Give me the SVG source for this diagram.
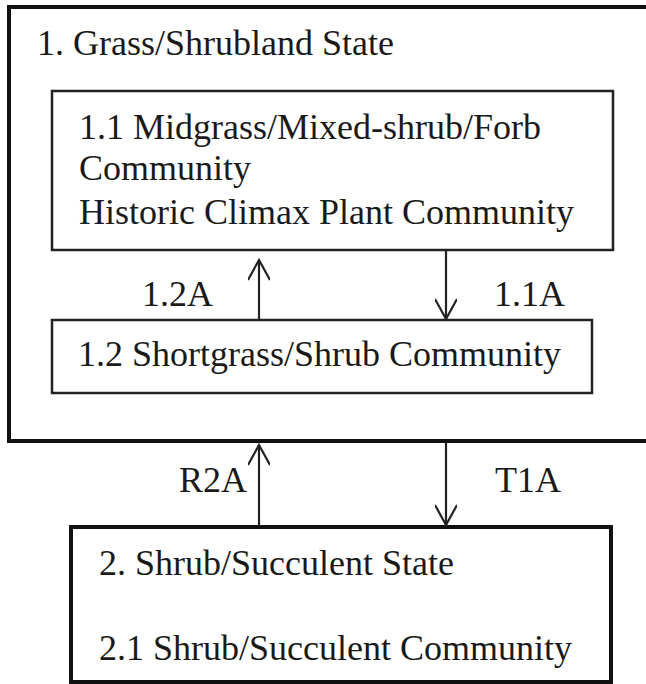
<svg xmlns="http://www.w3.org/2000/svg" width="646" height="684" viewBox="0 0 646 684">
<defs>
<style>
.t{font-family:"Liberation Serif","Times New Roman",serif;font-size:36px;fill:#1a1a1a}
.thick{fill:none;stroke:#111;stroke-width:4}
.thin{fill:none;stroke:#222;stroke-width:2.5}
.c{fill:none;stroke:#222;stroke-width:2.2}
</style>
<marker id="ah" viewBox="0 0 24 22" refX="22" refY="11" markerWidth="24" markerHeight="22" markerUnits="userSpaceOnUse" orient="auto">
<path d="M2,0 L22,11 L2,22" fill="none" stroke="#222" stroke-width="2.2"/>
</marker>
</defs>
<rect width="646" height="684" fill="#fff"/>
<g id="state1">
<rect class="thick" x="9" y="7" width="645" height="434"/>
<text class="t" x="37" y="55">1. Grass/Shrubland State</text>
</g>
<g id="community11">
<rect class="thin" x="52" y="91" width="561" height="159"/>
<text class="t" x="79" y="139">1.1 Midgrass/Mixed-shrub/Forb</text>
<text class="t" x="79" y="180">Community</text>
<text class="t" x="79" y="224">Historic Climax Plant Community</text>
</g>
<g id="community12">
<rect class="thin" x="52" y="320" width="540" height="73"/>
<text class="t" x="78" y="366">1.2 Shortgrass/Shrub Community</text>
</g>
<g id="state2">
<rect class="thick" x="71" y="527" width="540" height="155"/>
<text class="t" x="99" y="575">2. Shrub/Succulent State</text>
<text class="t" x="99" y="660">2.1 Shrub/Succulent Community</text>
</g>
<g id="connectors">
<line class="c" x1="259" y1="319" x2="259" y2="260" marker-end="url(#ah)"/>
<line class="c" x1="446" y1="251" x2="446" y2="319" marker-end="url(#ah)"/>
<line class="c" x1="259" y1="525" x2="259" y2="445" marker-end="url(#ah)"/>
<line class="c" x1="446" y1="443" x2="446" y2="525" marker-end="url(#ah)"/>
<text class="t" x="142" y="306">1.2A</text>
<text class="t" x="494" y="306">1.1A</text>
<text class="t" x="179" y="492">R2A</text>
<text class="t" x="495" y="492">T1A</text>
</g>
</svg>
